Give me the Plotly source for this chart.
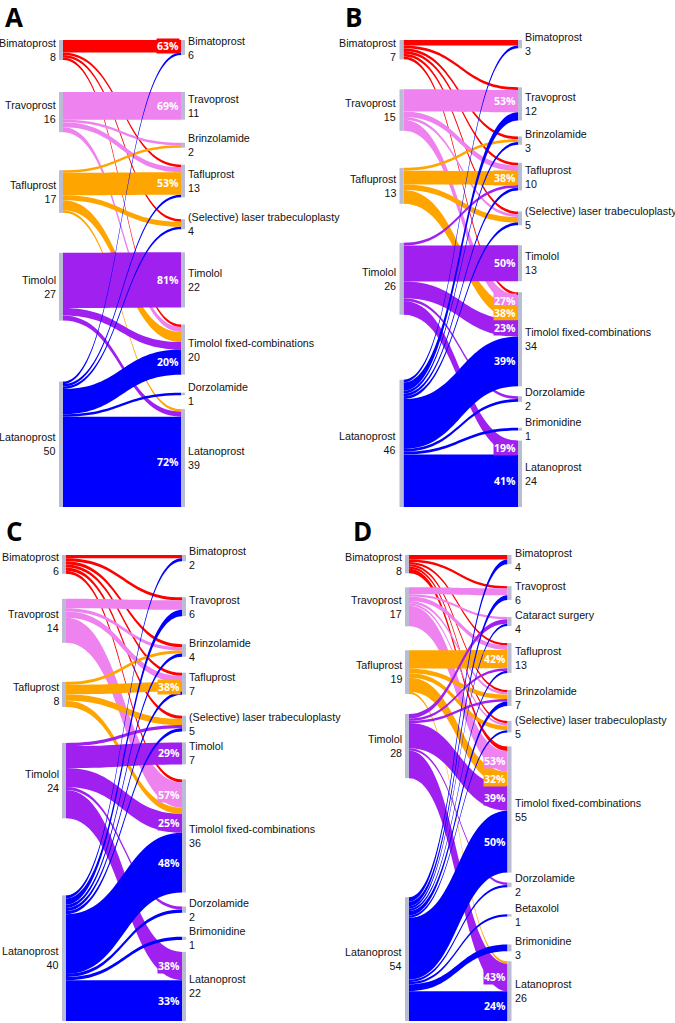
import plotly.graph_objects as go

FIG_W, FIG_H = 675, 1023

# ---------------- data ----------------
SOURCES = ["Bimatoprost", "Travoprost", "Tafluprost", "Timolol", "Latanoprost"]
SOURCE_COLORS = ["#FF0000", "#EE82EE", "#FFA500", "#A020F0", "#0000FF"]

# Panel A
A_targets = ["Bimatoprost", "Travoprost", "Brinzolamide", "Tafluprost",
             "(Selective) laser trabeculoplasty", "Timolol",
             "Timolol fixed-combinations", "Dorzolamide", "Latanoprost"]
A_from = [0, 0, 0, 0, 1, 1, 1, 1, 2, 2, 2, 2, 2, 3, 3, 3, 4, 4, 4, 4, 4, 4]
A_to   = [0, 3, 4, 6, 1, 2, 3, 6, 2, 3, 4, 6, 8, 5, 6, 8, 0, 3, 4, 6, 7, 8]
A_n    = [5, 1, 1, 1, 11, 1, 2, 2, 1, 9, 2, 4, 1, 22, 3, 2, 1, 1, 1, 10, 1, 36]
A_pct  = [1, 0, 0, 0, 1, 0, 0, 0, 0, 1, 0, 0, 0, 1, 0, 0, 0, 0, 0, 1, 0, 1]

# Panel B
B_targets = ["Bimatoprost", "Travoprost", "Brinzolamide", "Tafluprost",
             "(Selective) laser trabeculoplasty", "Timolol",
             "Timolol fixed-combinations", "Dorzolamide", "Brimonidine", "Latanoprost"]
B_from = [0, 0, 0, 0, 0, 0, 1, 1, 1, 1, 2, 2, 2, 2, 3, 3, 3, 3, 3,
          4, 4, 4, 4, 4, 4, 4, 4, 4]
B_to   = [0, 1, 2, 3, 4, 6, 1, 3, 4, 6, 2, 3, 4, 6, 3, 5, 6, 7, 9,
          0, 1, 2, 3, 4, 6, 7, 8, 9]
B_n    = [2, 1, 1, 1, 1, 1, 8, 2, 1, 4, 1, 5, 2, 5, 1, 13, 6, 1, 5,
          1, 3, 1, 1, 1, 18, 1, 1, 19]
B_pct  = [0, 0, 0, 0, 0, 0, 1, 0, 0, 1, 0, 1, 0, 1, 0, 1, 1, 0, 1,
          0, 0, 0, 0, 0, 1, 0, 0, 1]

# Panel C
C_targets = ["Bimatoprost", "Travoprost", "Brinzolamide", "Tafluprost",
             "(Selective) laser trabeculoplasty", "Timolol",
             "Timolol fixed-combinations", "Dorzolamide", "Brimonidine", "Latanoprost"]
C_from = [0, 0, 0, 0, 0, 0, 1, 1, 1, 1, 2, 2, 2, 2, 3, 3, 3, 3, 3,
          4, 4, 4, 4, 4, 4, 4, 4, 4]
C_to   = [0, 1, 2, 3, 4, 6, 1, 2, 3, 6, 2, 3, 4, 6, 4, 5, 6, 7, 9,
          0, 1, 2, 3, 4, 6, 7, 8, 9]
C_n    = [1, 1, 1, 1, 1, 1, 3, 1, 2, 8, 1, 3, 2, 2, 1, 7, 6, 1, 9,
          1, 2, 1, 1, 1, 19, 1, 1, 13]
C_pct  = [0, 0, 0, 0, 0, 0, 0, 0, 0, 1, 0, 1, 0, 0, 0, 1, 1, 0, 1,
          0, 0, 0, 0, 0, 1, 0, 0, 1]

# Panel D
D_targets = ["Bimatoprost", "Travoprost", "Cataract surgery", "Tafluprost",
             "Brinzolamide", "(Selective) laser trabeculoplasty",
             "Timolol fixed-combinations", "Dorzolamide", "Betaxolol",
             "Brimonidine", "Latanoprost"]
D_from = [0, 0, 0, 0, 0, 0, 1, 1, 1, 1, 1, 1, 2, 2, 2, 2, 2,
          3, 3, 3, 3, 3, 3, 4, 4, 4, 4, 4, 4, 4, 4, 4, 4, 4]
D_to   = [0, 1, 3, 4, 5, 6, 1, 2, 3, 4, 5, 6, 3, 4, 5, 6, 10,
          2, 3, 4, 6, 7, 10, 0, 1, 2, 3, 4, 5, 6, 7, 8, 9, 10]
D_n    = [2, 1, 1, 1, 1, 2, 3, 1, 2, 1, 1, 9, 8, 2, 2, 6, 1,
          2, 1, 1, 11, 1, 12, 2, 2, 1, 1, 2, 1, 27, 1, 1, 3, 13]
D_pct  = [0, 0, 0, 0, 0, 0, 0, 0, 0, 0, 0, 1, 1, 0, 0, 1, 0,
          0, 0, 0, 1, 0, 1, 0, 0, 0, 0, 0, 0, 1, 0, 0, 0, 1]

# ---------------- layout (pixels) ----------------
NODE_COLOR = "#B9BCD2"
NODE_T = 4
LABEL_FONT = dict(family="Liberation Sans, Arial, sans-serif", size=10.7, color="#111111")
PCT_FONT = dict(family="Open Sans, sans-serif", size=10.5, color="white", weight="bold")
LETTER_FONT = dict(family="Open Sans, sans-serif", size=26, color="black", weight="bold")

panels = [
    dict(letter="A", targets=A_targets, src=A_from, tgt=A_to, val=A_n, show=A_pct,
         frame=(61, 183, 40, 507), letter_at=(3, -3),
         rgaps=[37, 23, 17, 22, 23, 17, 18, 14], lgaps=[32, 38, 40]),
    dict(letter="B", targets=B_targets, src=B_from, tgt=B_to, val=B_n, show=B_pct,
         frame=(401.5, 520, 40, 507), letter_at=(343, -3),
         rgaps=[39, 16, 18, 21, 20, 11, 10, 26, 10], lgaps=[30, 37, 39]),
    dict(letter="C", targets=C_targets, src=C_from, tgt=C_to, val=C_n, show=C_pct,
         frame=(64, 184, 555, 1021), letter_at=(4, 511),
         rgaps=[36, 28, 16, 21, 11, 15, 14, 24, 12], lgaps=[25, 39, 36]),
    dict(letter="D", targets=D_targets, src=D_from, tgt=D_to, val=D_n, show=D_pct,
         frame=(407, 509.5, 555, 1021), letter_at=(351, 511),
         rgaps=[22, 17, 17, 17, 15, 14, 10, 27, 28, 10], lgaps=[14, 24, 20]),
]


def px(x):
    return x / FIG_W


def py(y):
    return 1 - y / FIG_H


fig = go.Figure()
annotations = []

for p in panels:
    xl, xr, top, bot = p["frame"]
    Hp = bot - top
    nS, nT = len(SOURCES), len(p["targets"])
    src_tot = [sum(v for s, v in zip(p["src"], p["val"]) if s == i) for i in range(nS)]
    tgt_tot = [sum(v for t, v in zip(p["tgt"], p["val"]) if t == j) for j in range(nT)]
    total = sum(p["val"])
    ky = (Hp - sum(p["rgaps"])) / total
    pad = sum(p["rgaps"]) / (nT - 1)

    rtop, y = [], top
    for j in range(nT):
        rtop.append(y)
        y += tgt_tot[j] * ky + (p["rgaps"][j] if j < nT - 1 else 0)
    ltop, y = [], top
    for i in range(nS):
        if i == nS - 1:
            y = bot - src_tot[i] * ky
        ltop.append(y)
        y += src_tot[i] * ky + (p["lgaps"][i] if i < len(p["lgaps"]) else 0)

    x0, x1 = xl - 10, xr + 10
    Wd = x1 - x0
    node_x = [10 / Wd] * nS + [(Wd - 10) / Wd] * nT
    node_y = [(ltop[i] - top + src_tot[i] * ky / 2) / Hp for i in range(nS)] + \
             [(rtop[j] - top + tgt_tot[j] * ky / 2) / Hp for j in range(nT)]

    fig.add_trace(go.Sankey(
        domain=dict(x=[px(x0), px(x1)], y=[py(bot), py(top)]),
        arrangement="fixed",
        node=dict(label=[""] * (nS + nT), x=node_x, y=node_y, pad=pad,
                  thickness=NODE_T, color=NODE_COLOR, line=dict(width=0)),
        link=dict(source=p["src"], target=[nS + t for t in p["tgt"]], value=p["val"],
                  color=[SOURCE_COLORS[s] for s in p["src"]], line=dict(width=0)),
        hoverinfo="none",
    ))

    # node labels
    for i in range(nS):
        cy = ltop[i] + src_tot[i] * ky / 2
        annotations.append(dict(x=px(xl - NODE_T / 2 - 1.5), y=py(cy), xref="paper", yref="paper",
                                text=f"{SOURCES[i]}<br>{src_tot[i]}", showarrow=False,
                                xanchor="right", yanchor="middle", align="right", font=LABEL_FONT))
    for j in range(nT):
        cy = rtop[j] + tgt_tot[j] * ky / 2
        annotations.append(dict(x=px(xr + NODE_T / 2 + 1), y=py(cy), xref="paper", yref="paper",
                                text=f"{p['targets'][j]}<br>{tgt_tot[j]}", showarrow=False,
                                xanchor="left", yanchor="middle", align="left", font=LABEL_FONT))

    # percentage labels at target end of flows
    for j in range(nT):
        yy = rtop[j]
        for k in sorted([k for k in range(len(p["val"])) if p["tgt"][k] == j],
                        key=lambda k: p["src"][k]):
            h = p["val"][k] * ky
            if p["show"][k]:
                pct = int(100 * p["val"][k] / src_tot[p["src"][k]] + 0.5)
                annotations.append(dict(x=px(xr - NODE_T / 2 - 1), y=py(yy + h / 2),
                                        xref="paper", yref="paper", text=f"{pct}%",
                                        showarrow=False, xanchor="right", yanchor="middle",
                                        bgcolor=SOURCE_COLORS[p["src"][k]], borderpad=0,
                                        font=PCT_FONT))
            yy += h

    lx, ly = p["letter_at"]
    annotations.append(dict(x=px(lx), y=py(ly), xref="paper", yref="paper",
                            text=p["letter"], showarrow=False, xanchor="left",
                            yanchor="top", font=LETTER_FONT))

fig.update_layout(width=FIG_W, height=FIG_H, margin=dict(l=0, r=0, t=0, b=0),
                  paper_bgcolor="white", plot_bgcolor="white",
                  annotations=annotations, showlegend=False)

fig.write_html("out.html", config={"displayModeBar": False},
               post_script="document.body.style.margin='0';document.body.style.overflow='hidden';")
